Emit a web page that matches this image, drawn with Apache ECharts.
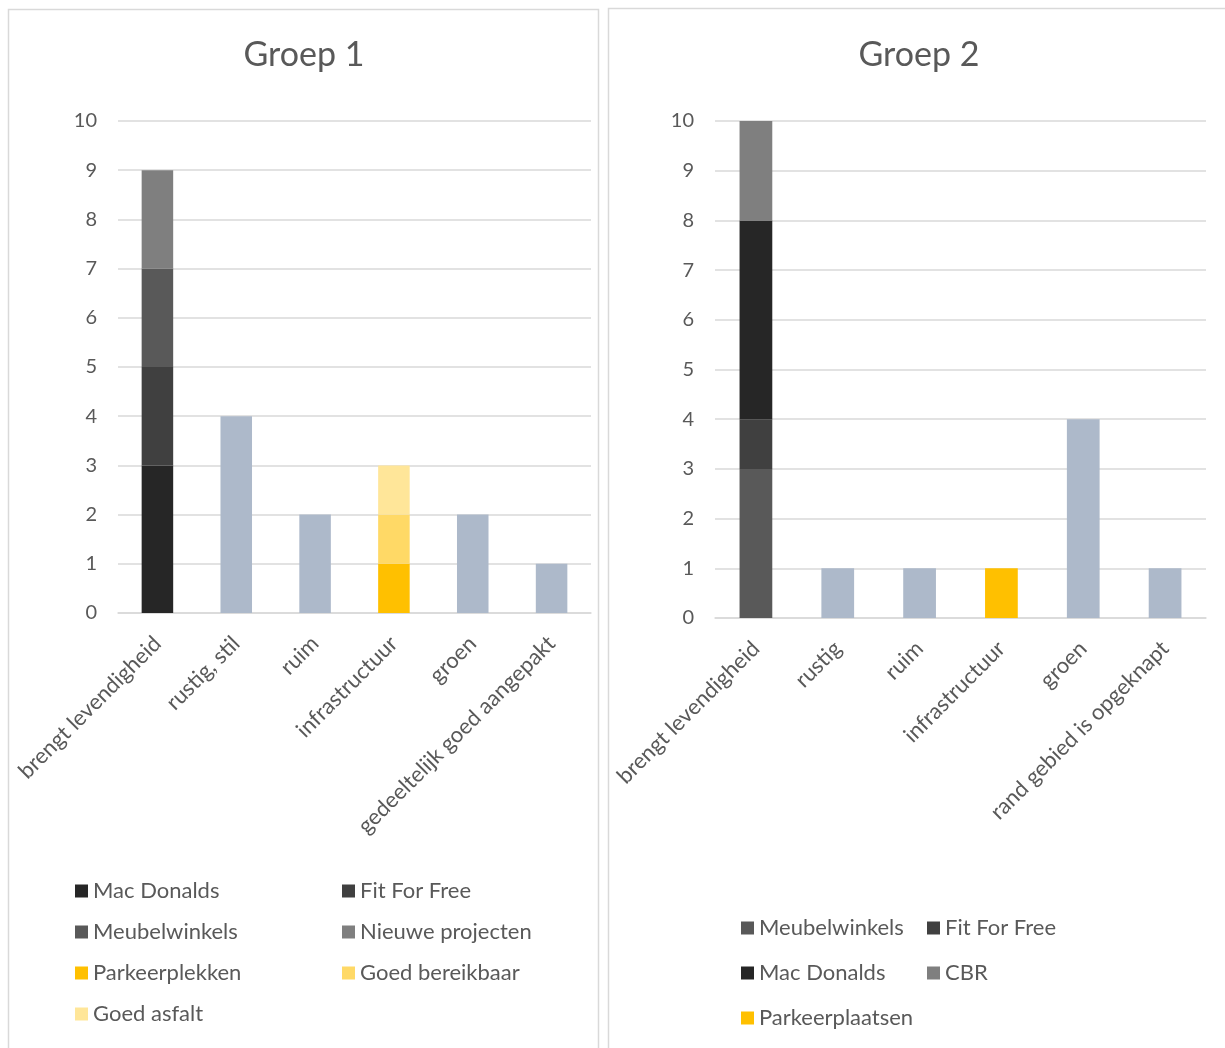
<!DOCTYPE html>
<html>
<head>
<meta charset="utf-8">
<script src="https://cdn.jsdelivr.net/npm/echarts@6/dist/echarts.min.js"></script>
<style>html,body{margin:0;padding:0;background:#fff}#c{width:1225px;height:1048px}</style>
</head>
<body>
<div id="c"></div>
<script>
// ---------- Data ----------
const titles = ['Groep 1', 'Groep 2'];
const yTicks = [0, 10, 1]; // min, max, interval

const cats1 = ['brengt levendigheid', 'rustig, stil', 'ruim', 'infrastructuur', 'groen', 'gedeeltelijk goed aangepakt'];
const g1MacDonalds      = [3, null, null, null, null, null];
const g1FitForFree      = [2, null, null, null, null, null];
const g1Meubelwinkels   = [2, null, null, null, null, null];
const g1NieuweProjecten = [2, null, null, null, null, null];
const g1Parkeerplekken  = [null, null, null, 1, null, null];
const g1GoedBereikbaar  = [null, null, null, 1, null, null];
const g1GoedAsfalt      = [null, null, null, 1, null, null];
const g1Overig          = [null, 4, 2, null, 2, 1];

const cats2 = ['brengt levendigheid', 'rustig', 'ruim', 'infrastructuur', 'groen', 'rand gebied is opgeknapt'];
const g2Meubelwinkels  = [3, null, null, null, null, null];
const g2FitForFree     = [1, null, null, null, null, null];
const g2MacDonalds     = [4, null, null, null, null, null];
const g2CBR            = [2, null, null, null, null, null];
const g2Parkeerplaatsen = [null, null, null, 1, null, null];
const g2Overig         = [null, 1, 1, null, 4, 1];

const legend1Col1 = ['Mac Donalds', 'Meubelwinkels', 'Parkeerplekken', 'Goed asfalt'];
const legend1Col2 = ['Fit For Free', 'Nieuwe projecten', 'Goed bereikbaar'];
const legend2Col1 = ['Meubelwinkels', 'Mac Donalds', 'Parkeerplaatsen'];
const legend2Col2 = ['Fit For Free', 'CBR'];

// ---------- Styles ----------
const colors = {
  'Mac Donalds': '#262626',
  'Fit For Free': '#404040',
  'Meubelwinkels': '#595959',
  'Nieuwe projecten': '#7f7f7f',
  'CBR': '#7f7f7f',
  'Parkeerplekken': '#ffc000',
  'Parkeerplaatsen': '#ffc000',
  'Goed bereikbaar': '#ffd966',
  'Goed asfalt': '#ffe699',
  'Overig': '#adb9ca'
};
const FONT = 'Lato, "Open Sans", sans-serif';
const TXT = '#595959';
const GRIDC = '#d9d9d9';

function bar(name, data, idx) {
  return {
    type: 'bar', name: name, data: data, stack: 's' + idx,
    xAxisIndex: idx, yAxisIndex: idx, barWidth: '40%',
    itemStyle: { color: colors[name] }, emphasis: { disabled: true }
  };
}

const series = [
  bar('Mac Donalds', g1MacDonalds, 0),
  bar('Fit For Free', g1FitForFree, 0),
  bar('Meubelwinkels', g1Meubelwinkels, 0),
  bar('Nieuwe projecten', g1NieuweProjecten, 0),
  bar('Parkeerplekken', g1Parkeerplekken, 0),
  bar('Goed bereikbaar', g1GoedBereikbaar, 0),
  bar('Goed asfalt', g1GoedAsfalt, 0),
  bar('Overig', g1Overig, 0),
  bar('Meubelwinkels', g2Meubelwinkels, 1),
  bar('Fit For Free', g2FitForFree, 1),
  bar('Mac Donalds', g2MacDonalds, 1),
  bar('CBR', g2CBR, 1),
  bar('Parkeerplaatsen', g2Parkeerplaatsen, 1),
  bar('Overig', g2Overig, 1)
];

function xAxis(cats, idx) {
  return {
    type: 'category', gridIndex: idx, data: cats,
    axisLine: { lineStyle: { color: GRIDC, width: 1.5 } },
    axisTick: { show: false },
    axisLabel: { rotate: 45, fontSize: 22, color: TXT, fontFamily: FONT, margin: 27, interval: 0 }
  };
}
function yAxis(idx) {
  return {
    type: 'value', gridIndex: idx, min: yTicks[0], max: yTicks[1], interval: yTicks[2],
    axisLine: { show: false }, axisTick: { show: false },
    splitLine: { lineStyle: { color: GRIDC, width: 1.5 } },
    axisLabel: { fontSize: 20, color: TXT, fontFamily: FONT, margin: 21 }
  };
}
function legend(data, left, top, gap) {
  return {
    data: data, orient: 'vertical', left: left, top: top, height: 300, width: 260,
    icon: 'rect', itemWidth: 13, itemHeight: 13, itemGap: gap,
    selectedMode: false, padding: 0,
    textStyle: { fontSize: 22, color: TXT, fontFamily: FONT, lineHeight: 20 }
  };
}

const option = {
  animation: false,
  backgroundColor: '#fff',
  graphic: [
    { type: 'rect', shape: { x: 8.5, y: 9.5, width: 590, height: 1060 }, style: { fill: 'none', stroke: GRIDC, lineWidth: 1.5 }, silent: true },
    { type: 'rect', shape: { x: 608.5, y: 8.5, width: 640, height: 1060 }, style: { fill: 'none', stroke: GRIDC, lineWidth: 1.5 }, silent: true }
  ],
  title: [
    { text: titles[0], left: 299, top: 33, textAlign: 'center', textStyle: { fontSize: 34, fontWeight: 'normal', color: TXT, fontFamily: FONT } },
    { text: titles[1], left: 914, top: 33, textAlign: 'center', textStyle: { fontSize: 34, fontWeight: 'normal', color: TXT, fontFamily: FONT } }
  ],
  grid: [
    { left: 118, top: 121, width: 473, height: 492 },
    { left: 715, top: 121, width: 491, height: 497 }
  ],
  xAxis: [xAxis(cats1, 0), xAxis(cats2, 1)],
  yAxis: [yAxis(0), yAxis(1)],
  legend: [
    legend(legend1Col1, 75, 880, 19),
    legend(legend1Col2, 342, 880, 19),
    legend(legend2Col1, 741, 917, 23),
    legend(legend2Col2, 927, 917, 23)
  ],
  series: series
};

const chart = echarts.init(document.getElementById('c'), null, { renderer: 'canvas' });
chart.setOption(option);
</script>
</body>
</html>
